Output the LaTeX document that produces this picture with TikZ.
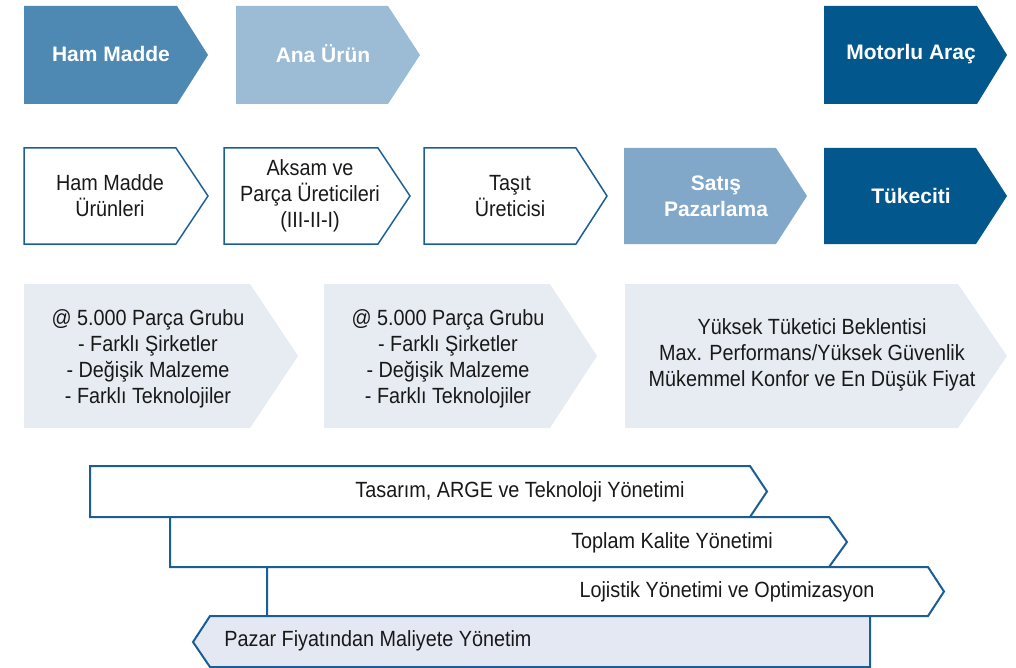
\documentclass[tikz,border=0pt]{standalone}
\usepackage{fontspec}
\setmainfont{Liberation Sans}
\newfontfamily\narrowfont{Liberation Sans}[FakeStretch=0.9]
\definecolor{hamc}{HTML}{4D89B3}
\definecolor{anac}{HTML}{9BBCD4}
\definecolor{darkc}{HTML}{02578C}
\definecolor{satc}{HTML}{82A8C9}
\definecolor{palec}{HTML}{E6ECF2}
\definecolor{pazc}{HTML}{E3E8F3}
\definecolor{bordc}{HTML}{1B5E96}
\newcommand\chevshape[6]{\path[#1] (#2,#3) -- (#4,#3) -- (#5,{(#3+#6)/2}) -- (#4,#6) -- (#2,#6) -- cycle;}
\begin{document}
\begin{tikzpicture}[x=1pt,y=-1pt,
  txt/.style={align=center, font=\narrowfont\fontsize{22}{26}\selectfont, text=black!90, inner sep=0pt},
  hd/.style={align=center, font=\fontsize{21}{26}\selectfont\bfseries, text=white, inner sep=0pt},
  outl/.style={draw=bordc, line width=1.5pt, fill=white},
  band/.style={draw=bordc, line width=2pt, fill=white},
]
\useasboundingbox (0,0) rectangle (1016,668);
% row 1
\chevshape{fill=hamc}{24}{6}{177}{208}{104}
\chevshape{fill=anac}{236}{6}{388}{420}{104}
\chevshape{fill=darkc}{824}{6}{977}{1007}{104}
\node[hd] (r1a) at (111,54) {Ham Madde};
\node[hd] (r1b) at (323,54) {Ana Ürün};
\node[hd] (r1c) at (911,54) {Motorlu Araç};
% row 2
\chevshape{outl}{24}{148}{176}{208}{244}
\chevshape{outl}{224}{148}{378}{410}{244}
\chevshape{outl}{424}{148}{576}{607}{244}
\chevshape{fill=satc}{624}{148}{776}{807}{244}
\chevshape{fill=darkc}{824}{148}{976}{1007}{244}
\node[txt] (r2a) at (110,196) {Ham Madde\\Ürünleri};
\node[txt] (r2b) at (310,196) {Aksam ve\\Parça Üreticileri\\(III-II-I)};
\node[txt] (r2c) at (510,196) {Taşıt\\Üreticisi};
\node[hd] (r2d) at (716,196) {Satış\\Pazarlama};
\node[hd] (r2e) at (911,196) {Tükeciti};
% row 3
\chevshape{fill=palec}{24}{284}{250}{298}{428}
\chevshape{fill=palec}{324}{284}{550}{597}{428}
\chevshape{fill=palec}{625}{284}{958}{1007}{428}
\node[txt] (r3a) at (148,359) {@ 5.000 Parça Grubu\\- Farklı Şirketler\\- Değişik Malzeme\\- Farklı Teknolojiler};
\node[txt] (r3b) at (448,359) {@ 5.000 Parça Grubu\\- Farklı Şirketler\\- Değişik Malzeme\\- Farklı Teknolojiler};
\node[txt] (r3c) at (812,355) {Yüksek Tüketici Beklentisi\\Max. Performans/Yüksek Güvenlik\\Mükemmel Konfor ve En Düşük Fiyat};
% bottom bands
\chevshape{band}{90}{466}{750}{767}{517}
\chevshape{band}{170}{517}{829}{847}{567}
\chevshape{band}{267}{567}{928}{944}{616}
\path[band, fill=pazc] (870,616) -- (210,616) -- (193,642) -- (210,667) -- (870,667) -- cycle;
\node[txt] (b1) at (520,492) {Tasarım, ARGE ve Teknoloji Yönetimi};
\node[txt] (b2) at (672,543) {Toplam Kalite Yönetimi};
\node[txt] (b3) at (727,592) {Lojistik Yönetimi ve Optimizasyon};
\node[txt] (b4) at (378,641) {Pazar Fiyatından Maliyete Yönetim};
\end{tikzpicture}
\end{document}
